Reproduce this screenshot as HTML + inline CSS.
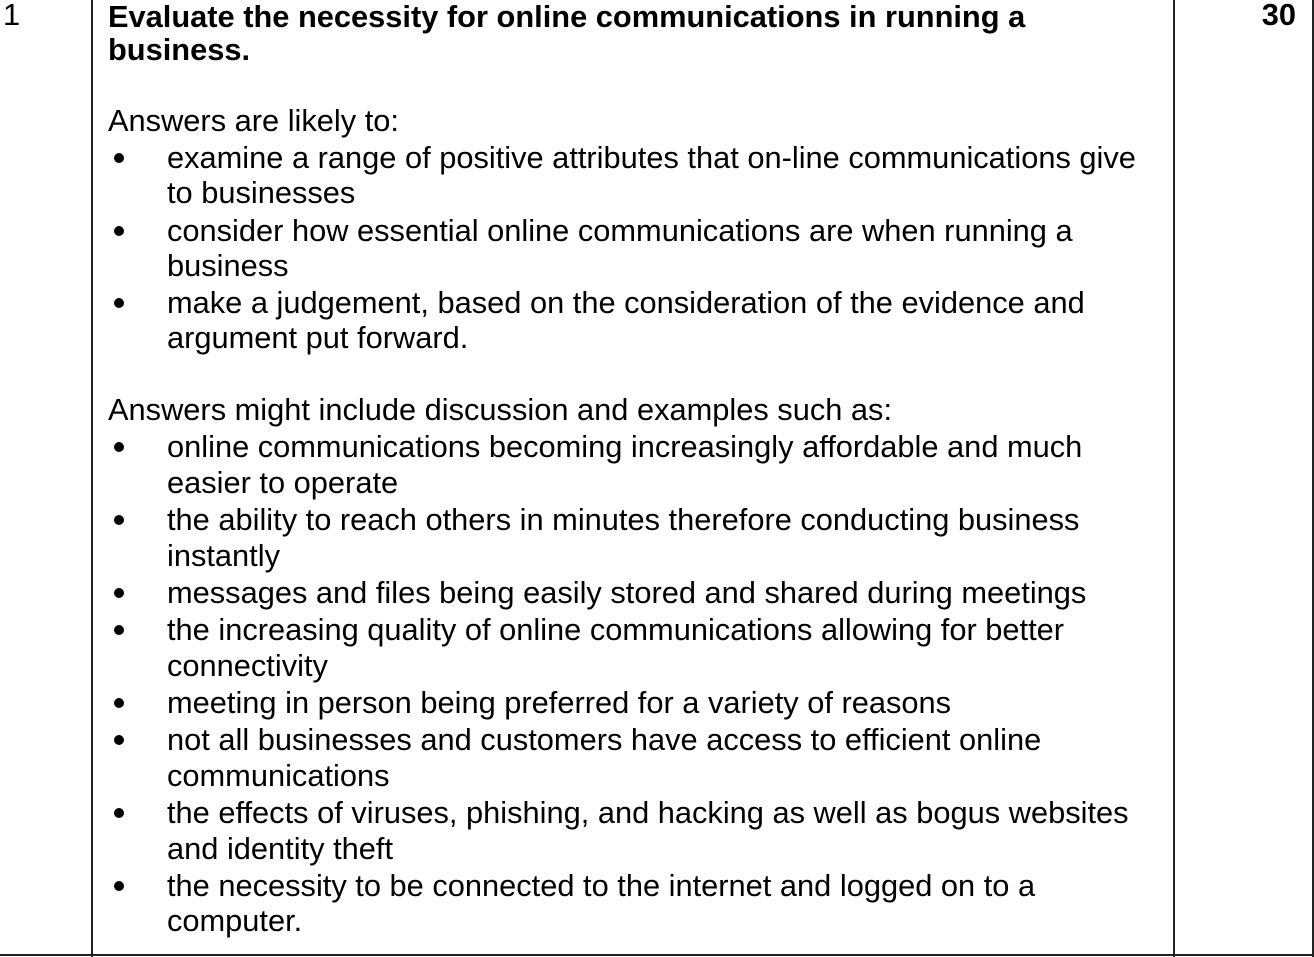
<!DOCTYPE html>
<html><head><meta charset="utf-8"><style>
body{margin:0;width:1314px;height:957px;background:#fff;position:relative;overflow:hidden;font-family:"Liberation Sans",Arial,sans-serif;font-size:30.8px;color:#000}
.l{position:absolute;white-space:nowrap;line-height:36px;height:36px}
.b{font-weight:bold}
.v{position:absolute;top:0;width:2px;height:957px;background:#222}
.bul{position:absolute;left:113px;width:13px;height:13px}
.bul::before{content:"";position:absolute;left:1px;top:0;width:10px;height:10px;border-radius:50%;background:#000}
</style></head><body>
<div class="v" style="left:91px"></div>
<div class="v" style="left:1173px"></div>
<div class="v" style="left:1312px"></div>
<div style="position:absolute;left:0;top:954px;width:1314px;height:2px;background:#222"></div>
<div class="l" style="left:3px;top:-3px">1</div>
<div class="l b" style="right:18px;top:-3px">30</div>
<div class="l b" style="left:108px;top:-1px">Evaluate the necessity for online communications in running a</div>
<div class="l b" style="left:108px;top:32px">business.</div>
<div class="l" style="left:108px;top:103px">Answers are likely to:</div>
<div class="bul" style="top:153px"></div>
<div class="l" style="left:167px;top:140px">examine a range of positive attributes that on-line communications give</div>
<div class="l" style="left:167px;top:175px">to businesses</div>
<div class="bul" style="top:226px"></div>
<div class="l" style="left:167px;top:213px">consider how essential online communications are when running a</div>
<div class="l" style="left:167px;top:248px">business</div>
<div class="bul" style="top:298px"></div>
<div class="l" style="left:167px;top:285px">make a judgement, based on the consideration of the evidence and</div>
<div class="l" style="left:167px;top:320px">argument put forward.</div>
<div class="l" style="left:108px;top:392px">Answers might include discussion and examples such as:</div>
<div class="bul" style="top:442px"></div>
<div class="l" style="left:167px;top:429px">online communications becoming increasingly affordable and much</div>
<div class="l" style="left:167px;top:465px">easier to operate</div>
<div class="bul" style="top:515px"></div>
<div class="l" style="left:167px;top:502px">the ability to reach others in minutes therefore conducting business</div>
<div class="l" style="left:167px;top:538px">instantly</div>
<div class="bul" style="top:588px"></div>
<div class="l" style="left:167px;top:575px">messages and files being easily stored and shared during meetings</div>
<div class="bul" style="top:625px"></div>
<div class="l" style="left:167px;top:612px">the increasing quality of online communications allowing for better</div>
<div class="l" style="left:167px;top:648px">connectivity</div>
<div class="bul" style="top:698px"></div>
<div class="l" style="left:167px;top:685px">meeting in person being preferred for a variety of reasons</div>
<div class="bul" style="top:735px"></div>
<div class="l" style="left:167px;top:722px">not all businesses and customers have access to efficient online</div>
<div class="l" style="left:167px;top:758px">communications</div>
<div class="bul" style="top:808px"></div>
<div class="l" style="left:167px;top:795px">the effects of viruses, phishing, and hacking as well as bogus websites</div>
<div class="l" style="left:167px;top:831px">and identity theft</div>
<div class="bul" style="top:881px"></div>
<div class="l" style="left:167px;top:868px">the necessity to be connected to the internet and logged on to a</div>
<div class="l" style="left:167px;top:903px">computer.</div>
</body></html>
